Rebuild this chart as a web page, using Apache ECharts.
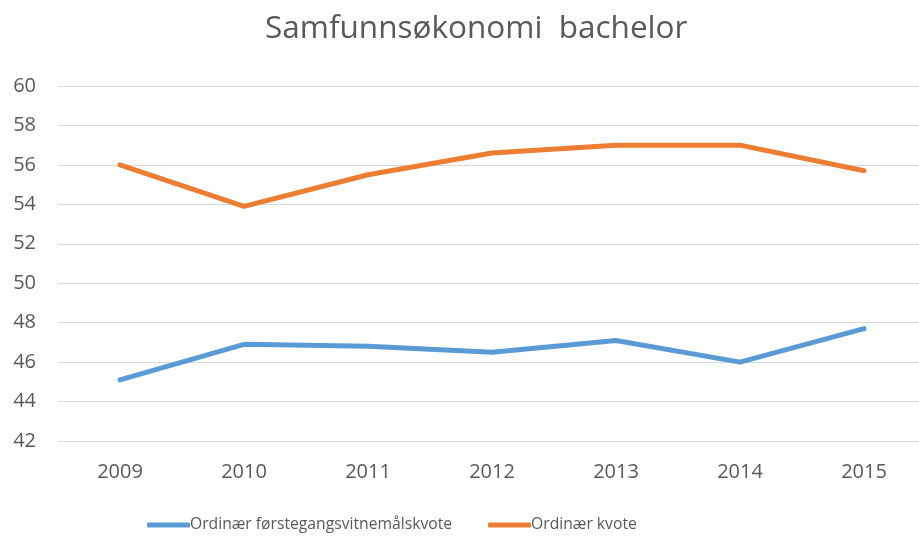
<!DOCTYPE html>
<html>
<head>
<meta charset="utf-8">
<script src="https://cdn.jsdelivr.net/npm/echarts@6/dist/echarts.min.js"></script>
<style>
  html, body { margin: 0; padding: 0; background: #fff; overflow: hidden; }
  /* chart is a little wider than the window: the reference is cropped on the right */
  #chart { width: 926px; height: 537px; }
</style>
</head>
<body>
<div id="chart"></div>
<script>
  // data
  var years = ['2009', '2010', '2011', '2012', '2013', '2014', '2015'];
  var forstegangs = [45.1, 46.9, 46.8, 46.5, 47.1, 46.0, 47.7];
  var ordinaer = [56.0, 53.9, 55.5, 56.6, 57.0, 57.0, 55.7];
  var seriesNames = ['Ordinær førstegangsvitnemålskvote', 'Ordinær kvote'];

  var font = '"Open Sans", "Noto Sans", sans-serif';
  var textColor = '#595959';

  var myChart = echarts.init(document.getElementById('chart'));
  myChart.setOption({
    animation: false,
    backgroundColor: '#fff',
    title: {
      text: 'Samfunnsøkonomi  bachelor',
      left: 265,
      top: 13,
      padding: 0,
      textStyle: { fontFamily: font, fontSize: 31.5, fontWeight: 'normal', color: textColor }
    },
    legend: {
      bottom: 4,
      left: 147,
      padding: 0,
      icon: 'roundRect',
      itemWidth: 43,
      itemHeight: 5,
      itemGap: 36,
      textStyle: { fontFamily: font, fontSize: 15.7, color: textColor, padding: [0, 0, 0, -5] },
      data: seriesNames
    },
    grid: { left: 58, right: 0, top: 86, bottom: 96 },
    xAxis: {
      type: 'category',
      data: years,
      boundaryGap: true,
      axisLine: { show: false },
      axisTick: { show: false },
      axisLabel: { fontFamily: font, fontSize: 20, color: textColor, margin: 21 }
    },
    yAxis: {
      type: 'value',
      min: 42,
      max: 60,
      interval: 2,
      axisLine: { show: false },
      axisTick: { show: false },
      splitLine: { lineStyle: { color: '#d9d9d9', width: 1 } },
      axisLabel: { fontFamily: font, fontSize: 20, color: textColor, margin: 22 }
    },
    series: [
      {
        name: seriesNames[0],
        type: 'line',
        data: forstegangs,
        symbol: 'none',
        color: '#5B9BD5',
        lineStyle: { width: 5, cap: 'round', join: 'round' }
      },
      {
        name: seriesNames[1],
        type: 'line',
        data: ordinaer,
        symbol: 'none',
        color: '#ED7D31',
        lineStyle: { width: 5, cap: 'round', join: 'round' }
      }
    ]
  });
</script>
</body>
</html>
